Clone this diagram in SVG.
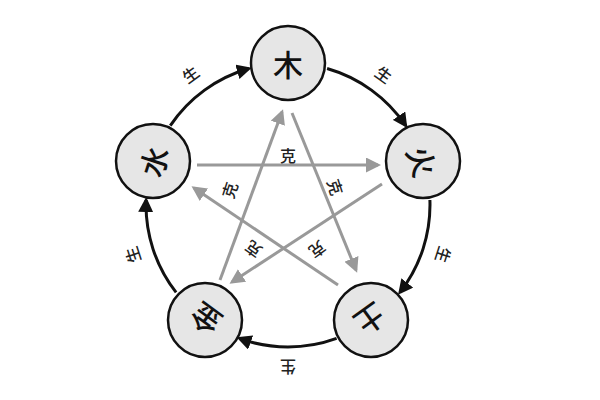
<svg xmlns="http://www.w3.org/2000/svg" width="600" height="400" viewBox="0 0 600 400">
<style>
.n{fill:#e6e6e6;stroke:#111;stroke-width:2.5}
.t{font-family:"Noto Sans CJK SC",sans-serif;font-size:30px;font-weight:500;fill:#111;text-anchor:middle;dominant-baseline:central}
.l{font-family:"Noto Sans CJK SC",sans-serif;font-size:16px;font-weight:500;fill:#222;text-anchor:middle;dominant-baseline:central}
.a{fill:none;stroke:#111;stroke-width:3;marker-end:url(#ka)}
.s{fill:none;stroke:#999;stroke-width:3;marker-end:url(#ga)}
</style>
<defs>
<marker id="ka" viewBox="0 0 10 10" refX="8" refY="5" markerWidth="5" markerHeight="5" orient="auto" markerUnits="strokeWidth"><path d="M0,0L10,5L0,10z" fill="#111"/></marker>
<marker id="ga" viewBox="0 0 10 10" refX="8" refY="5" markerWidth="5" markerHeight="5" orient="auto" markerUnits="strokeWidth"><path d="M0,0L10,5L0,10z" fill="#999"/></marker>
</defs>
<rect width="600" height="400" fill="#fff"/>
<g id="connectors">
<path class="a" d="M327.1,68.5A142,142 0 0 1 405.7,125.6"/>
<path class="a" d="M429.9,200A142,142 0 0 1 399.9,292.4"/>
<path class="a" d="M336.6,338.4A142,142 0 0 1 239.4,338.4"/>
<path class="a" d="M176.1,292.4A142,142 0 0 1 146.1,200"/>
<path class="a" d="M170.3,125.6A142,142 0 0 1 248.9,68.5"/>
<line class="s" x1="197" y1="165" x2="378" y2="165"/>
<line class="s" x1="220" y1="280" x2="282" y2="112"/>
<line class="s" x1="292" y1="113" x2="356" y2="270"/>
<line class="s" x1="338" y1="285" x2="194" y2="188"/>
<line class="s" x1="382" y1="184" x2="232" y2="282"/>
<text class="l" transform="translate(384,74) rotate(36)">生</text>
<text class="l" transform="translate(444,255) rotate(108)">生</text>
<text class="l" transform="translate(288,368) rotate(180)">生</text>
<text class="l" transform="translate(132,255) rotate(252)">生</text>
<text class="l" transform="translate(190,74) rotate(324)">生</text>
<text class="l" transform="translate(288,155)">克</text>
<text class="l" transform="translate(336,187) rotate(72)">克</text>
<text class="l" transform="translate(318,250) rotate(144)">克</text>
<text class="l" transform="translate(253,250) rotate(216)">克</text>
<text class="l" transform="translate(229,190) rotate(288)">克</text>
</g>
<g id="mu"><circle class="n" cx="288" cy="63" r="37"/><text class="t" x="288" y="63">木</text></g>
<g id="huo"><circle class="n" cx="423" cy="161" r="37"/><text class="t" transform="translate(423,161) rotate(72)">火</text></g>
<g id="tu"><circle class="n" cx="371" cy="320" r="37"/><text class="t" transform="translate(371,320) rotate(144)">土</text></g>
<g id="jin"><circle class="n" cx="205" cy="320" r="37"/><text class="t" transform="translate(205,320) rotate(216)">金</text></g>
<g id="shui"><circle class="n" cx="153" cy="161" r="37"/><text class="t" transform="translate(153,161) rotate(288)">水</text></g>
</svg>
